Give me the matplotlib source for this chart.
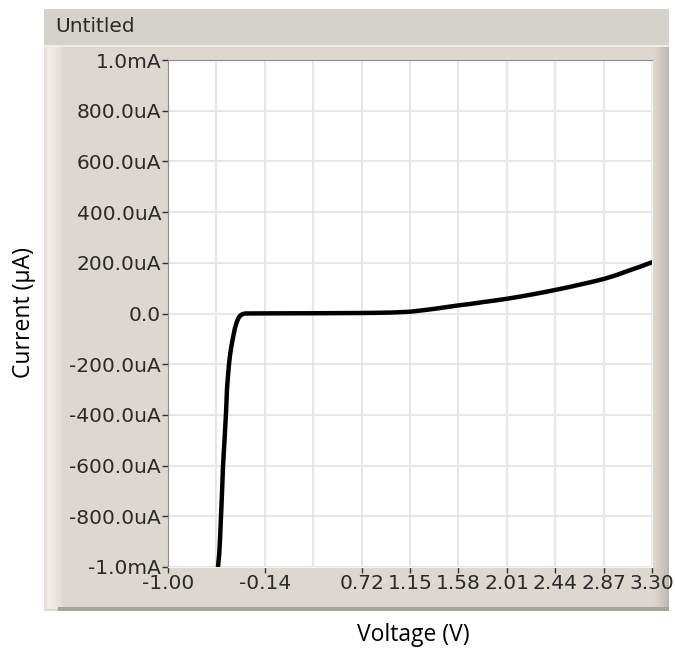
import numpy as np
import matplotlib.pyplot as plt
from matplotlib.patches import Rectangle

# I-V sweep (volts, microamps)
voltage = [-0.556, -0.545, -0.538, -0.529, -0.520, -0.511, -0.498, -0.485, -0.476,
           -0.467, -0.458, -0.449, -0.440, -0.431, -0.418, -0.405, -0.392, -0.380,
           -0.369, -0.355, -0.340, -0.316, -0.25, -0.14, 0.0, 0.29, 0.50, 0.72,
           0.90, 1.00, 1.15, 1.25, 1.36, 1.47, 1.58, 1.69, 1.80, 1.90, 2.01, 2.12,
           2.22, 2.33, 2.44, 2.55, 2.65, 2.76, 2.87, 2.98, 3.08, 3.19, 3.30]
current = [-1000, -950, -893, -800, -704, -600, -500, -396, -300,
           -245, -200, -165, -138, -115, -85, -58, -38, -24,
           -14, -7, -3, 0, 0.2, 0.5, 0.7, 1.0, 1.5, 2.0,
           3.0, 4.0, 7.0, 12, 18, 25, 32, 38, 45, 51, 58, 66,
           74, 83, 93, 103, 113, 124, 136, 151, 167, 184, 202]

x_grid = [-1.00, -0.57, -0.14, 0.29, 0.72, 1.15, 1.58, 2.01, 2.44, 2.87, 3.30]
x_labeled = [-1.00, -0.14, 0.72, 1.15, 1.58, 2.01, 2.44, 2.87, 3.30]
x_hidden = [-0.57, 0.29]
y_ticks = [-1000, -800, -600, -400, -200, 0, 200, 400, 600, 800, 1000]
y_labels = ['-1.0mA', '-800.0uA', '-600.0uA', '-400.0uA', '-200.0uA', '0.0',
            '200.0uA', '400.0uA', '600.0uA', '800.0uA', '1.0mA']

W, H = 675, 655
fig = plt.figure(figsize=(W / 100, H / 100), dpi=100)

# background panel drawn in pixel coords
bg = fig.add_axes([0, 0, 1, 1])
bg.set_xlim(0, W)
bg.set_ylim(H, 0)
bg.axis('off')
bg.add_patch(Rectangle((44, 9), 625, 36, color='#D5D2CB', lw=0))
bg.add_patch(Rectangle((44, 45), 625, 566, color='#DCD7CF', lw=0))
bg.add_patch(Rectangle((44, 45), 625, 2, color='#F0ECE4', lw=0))
for i, c in enumerate(['#E6E2DA', '#F2EEE6', '#EFEBE2', '#ECE7DE', '#E8E3DA', '#E4DFD6']):
    bg.add_patch(Rectangle((44 + i * 3, 47), 3, 562, color=c, lw=0))
for i, c in enumerate(['#DAD5CD', '#D6D1C9', '#D1CCC4', '#CBC6BE', '#C4BFB7', '#B9B4AC']):
    bg.add_patch(Rectangle((653 + i * 2.7, 47), 2.7, 562, color=c, lw=0))
bg.add_patch(Rectangle((58, 607), 611, 4, color='#A9A59E', lw=0))
bg.text(55, 27, 'Untitled', fontsize=14.5, va='center', ha='left', color='#2a2a2a')

# plot area
ax = fig.add_axes([168 / W, (H - 567) / H, 484 / W, 507 / H])
ax.set_zorder(2)
ax.plot(voltage, current, color='black', lw=3.2, solid_joinstyle='round')
ax.set_xlim(-1.0, 3.3)
ax.set_ylim(-1000, 1000)

ax.set_xticks(x_labeled)
ax.set_xticklabels(['%.2f' % v for v in x_labeled])
ax.set_xticks(x_hidden, minor=True)
ax.set_yticks(y_ticks)
ax.set_yticklabels(y_labels)
for v in x_grid:
    ax.axvline(v, color='#E8E6EA', lw=1.5, zorder=0)
for v in y_ticks:
    ax.axhline(v, color='#E8E6EA', lw=1.5, zorder=0)

ax.tick_params(axis='both', which='major', direction='out', length=4, width=1,
               color='#333333', labelsize=14.5, labelcolor='#2a2a2a', pad=1)
ax.tick_params(axis='x', which='minor', length=0)
ax.spines['top'].set_color('#8C8C8C')
ax.spines['left'].set_color('#8C8C8C')
ax.spines['bottom'].set_color('#F4F4F4')
ax.spines['right'].set_color('#F4F4F4')

fig.text(413 / W, 1 - 635 / H, 'Voltage (V)', fontsize=16.5, family='Open Sans',
         ha='center', va='center')
fig.text(24 / W, 1 - 313 / H, 'Current (\u00b5A)', fontsize=16.5, family='Open Sans',
         ha='center', va='center', rotation=90)

fig.savefig('out.png', dpi=100, facecolor='white')
